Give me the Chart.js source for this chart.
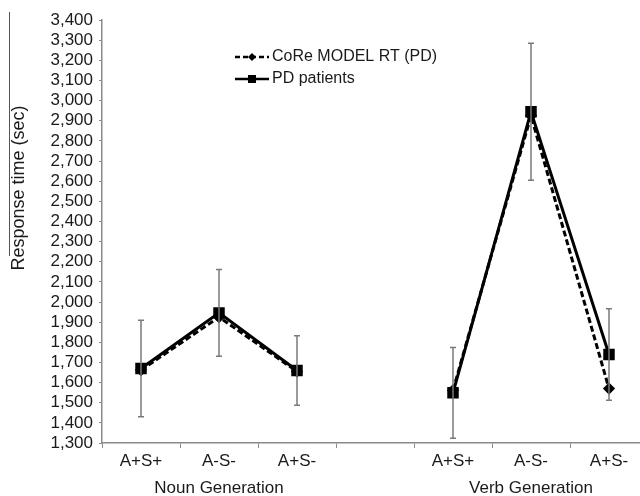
<!DOCTYPE html>
<html>
<head>
<meta charset="utf-8">
<script src="https://cdn.jsdelivr.net/npm/chart.js@4.4.0/dist/chart.umd.min.js"></script>
<style>
    html, body { margin: 0; padding: 0; background: #fff; overflow: hidden; }
    #wrap { width: 660px; height: 496px; }
</style>
</head>
<body>
<div id="wrap"><canvas id="chartRT"></canvas></div>
<script>
// categories (empty slot separates the two tasks)
var categories = ["A+S+", "A-S-", "A+S-", "", "A+S+", "A-S-", "A+S-"];
var groupLabels = ["Noun Generation", "Verb Generation"];
var groupCenters = [1, 5];

// response times
var modelRT = [1662, 1925, 1655, null, 1562, 2925, 1570];
var patientRT = [1670, 1946, 1660, null, 1549, 2945, 1739];
var patientErr = [240, 215, 172, null, 225, 340, 227];

var seriesNames = ["CoRe MODEL RT (PD)", "PD patients"];

var FONT = "'Liberation Sans', Arial, sans-serif";
var TXT = "#1a1a1a";
var AXIS = "#8a8a8a";

// error bars for the patient series
var errorBars = {
    id: "errorBars",
    afterDatasetsDraw: function (chart) {
        var ctx = chart.ctx;
        var x = chart.scales.x, y = chart.scales.y;
        ctx.save();
        ctx.strokeStyle = "#7a7a7a";
        ctx.lineWidth = 1.5;
        patientRT.forEach(function (v, i) {
            if (v === null) return;
            var px = x.getPixelForValue(i);
            var top = y.getPixelForValue(v + patientErr[i]);
            var bot = y.getPixelForValue(v - patientErr[i]);
            ctx.beginPath();
            ctx.moveTo(px, top); ctx.lineTo(px, bot);
            ctx.moveTo(px - 3, top); ctx.lineTo(px + 3, top);
            ctx.moveTo(px - 3, bot); ctx.lineTo(px + 3, bot);
            ctx.stroke();
        });
        ctx.restore();
    }
};

// y title, group labels and the legend
var extras = {
    id: "extras",
    afterDraw: function (chart) {
        var ctx = chart.ctx;
        var x = chart.scales.x;
        ctx.save();
        ctx.fillStyle = TXT;

        // y title
        ctx.save();
        ctx.translate(19, 188);
        ctx.rotate(-Math.PI / 2);
        ctx.font = "18px " + FONT;
        ctx.textAlign = "center";
        ctx.textBaseline = "middle";
        ctx.fillText("Response time (sec)", 0, 0);
        ctx.restore();

        ctx.strokeStyle = "#555";
        ctx.lineWidth = 1;
        ctx.beginPath();
        ctx.moveTo(9.5, 12); ctx.lineTo(9.5, 256);
        ctx.stroke();

        // group labels
        ctx.font = "17px " + FONT;
        ctx.textAlign = "center";
        ctx.textBaseline = "middle";
        groupLabels.forEach(function (g, i) {
            ctx.fillText(g, x.getPixelForValue(groupCenters[i]), 488);
        });

        // legend
        ctx.textAlign = "left";
        ctx.font = "16px " + FONT;
        var rows = [57, 79];
        ctx.strokeStyle = "#000";
        ctx.fillStyle = "#000";
        ctx.lineWidth = 2.5;
        // model
        ctx.setLineDash([5, 3]);
        ctx.beginPath(); ctx.moveTo(235, rows[0]); ctx.lineTo(269, rows[0]); ctx.stroke();
        ctx.setLineDash([]);
        ctx.beginPath();
        ctx.moveTo(252, rows[0] - 4); ctx.lineTo(256, rows[0]);
        ctx.lineTo(252, rows[0] + 4); ctx.lineTo(248, rows[0]);
        ctx.closePath(); ctx.fill();
        // patients
        ctx.beginPath(); ctx.moveTo(235, rows[1]); ctx.lineTo(269, rows[1]); ctx.stroke();
        ctx.fillRect(248, rows[1] - 4, 8, 8);
        ctx.fillStyle = TXT;
        ctx.fillText(seriesNames[0], 272, rows[0]);
        ctx.fillText(seriesNames[1], 272, rows[1]);
        ctx.restore();
    }
};

new Chart(document.getElementById("chartRT"), {
    type: "line",
    data: {
        labels: categories,
        datasets: [
            {
                label: seriesNames[0],
                data: modelRT,
                borderColor: "#000",
                backgroundColor: "#000",
                borderWidth: 3,
                borderDash: [6, 3],
                pointStyle: "rectRot",
                pointRadius: 4,
                spanGaps: false,
            },
            {
                label: seriesNames[1],
                data: patientRT,
                borderColor: "#000",
                backgroundColor: "#000",
                borderWidth: 3,
                pointStyle: "rect",
                pointRadius: 6,
                spanGaps: false,
            },
        ],
    },
    options: {
        responsive: true,
        maintainAspectRatio: false,
        animation: false,
        layout: { padding: { top: 20, right: 12, left: 0, bottom: 0 } },
        plugins: {
            legend: { display: false },
            tooltip: { enabled: false },
        },
        scales: {
            x: {
                type: "category",
                offset: true,
                afterFit: function (s) { s.height = 53; },
                grid: {
                    offset: true,
                    drawOnChartArea: false,
                    drawTicks: true,
                    tickLength: 5,
                    color: AXIS,
                },
                border: { color: AXIS, width: 1.5 },
                ticks: {
                    color: TXT,
                    padding: 3,
                    maxRotation: 0,
                    autoSkip: false,
                    font: { family: FONT, size: 17 },
                },
            },
            y: {
                min: 1300,
                max: 3400,
                afterFit: function (s) { s.width = 102; },
                grid: {
                    drawOnChartArea: false,
                    drawTicks: true,
                    tickLength: 3,
                    color: AXIS,
                },
                border: { color: AXIS, width: 1.5 },
                ticks: {
                    stepSize: 100,
                    autoSkip: false,
                    color: TXT,
                    padding: 6,
                    font: { family: FONT, size: 17 },
                },
            },
        },
    },
    plugins: [errorBars, extras],
});
</script>
</body>
</html>
